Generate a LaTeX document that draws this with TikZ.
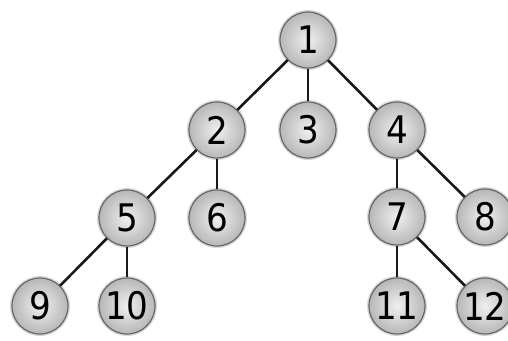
\documentclass[tikz,border=0pt]{standalone}
\usepackage{fontspec}
\setmainfont{DejaVu Sans Condensed}
\begin{document}
\begin{tikzpicture}[x=1pt,y=-1pt,
  treenode/.style={circle, minimum size=56pt, inner sep=0pt,
    preaction={draw=black!15, line width=4pt},
    draw=black!60, line width=1.2pt,
    inner color=black!6, outer color=black!28,
    font=\fontsize{38}{40}\selectfont},
  branch/.style={line width=2.6pt, black!90}]
\useasboundingbox (0,0) rectangle (508,340);
\node[treenode] (n1)  at (308,40)  {1};
\node[treenode] (n2)  at (217,130) {2};
\node[treenode] (n3)  at (308,130) {3};
\node[treenode] (n4)  at (397,130) {4};
\node[treenode] (n5)  at (127,218) {5};
\node[treenode] (n6)  at (217,218) {6};
\node[treenode] (n7)  at (397,217) {7};
\node[treenode] (n8)  at (485,217) {8};
\node[treenode] (n9)  at (40,306)  {9};
\node[treenode] (n10) at (127,306) {10};
\node[treenode] (n11) at (397,306) {11};
\node[treenode] (n12) at (485,306) {12};
\foreach \a/\b in {n1/n2,n1/n3,n1/n4,n2/n5,n2/n6,n4/n7,n4/n8,n5/n9,n5/n10,n7/n11,n7/n12}
  \draw[branch] (\a) -- (\b);
\end{tikzpicture}
\end{document}
